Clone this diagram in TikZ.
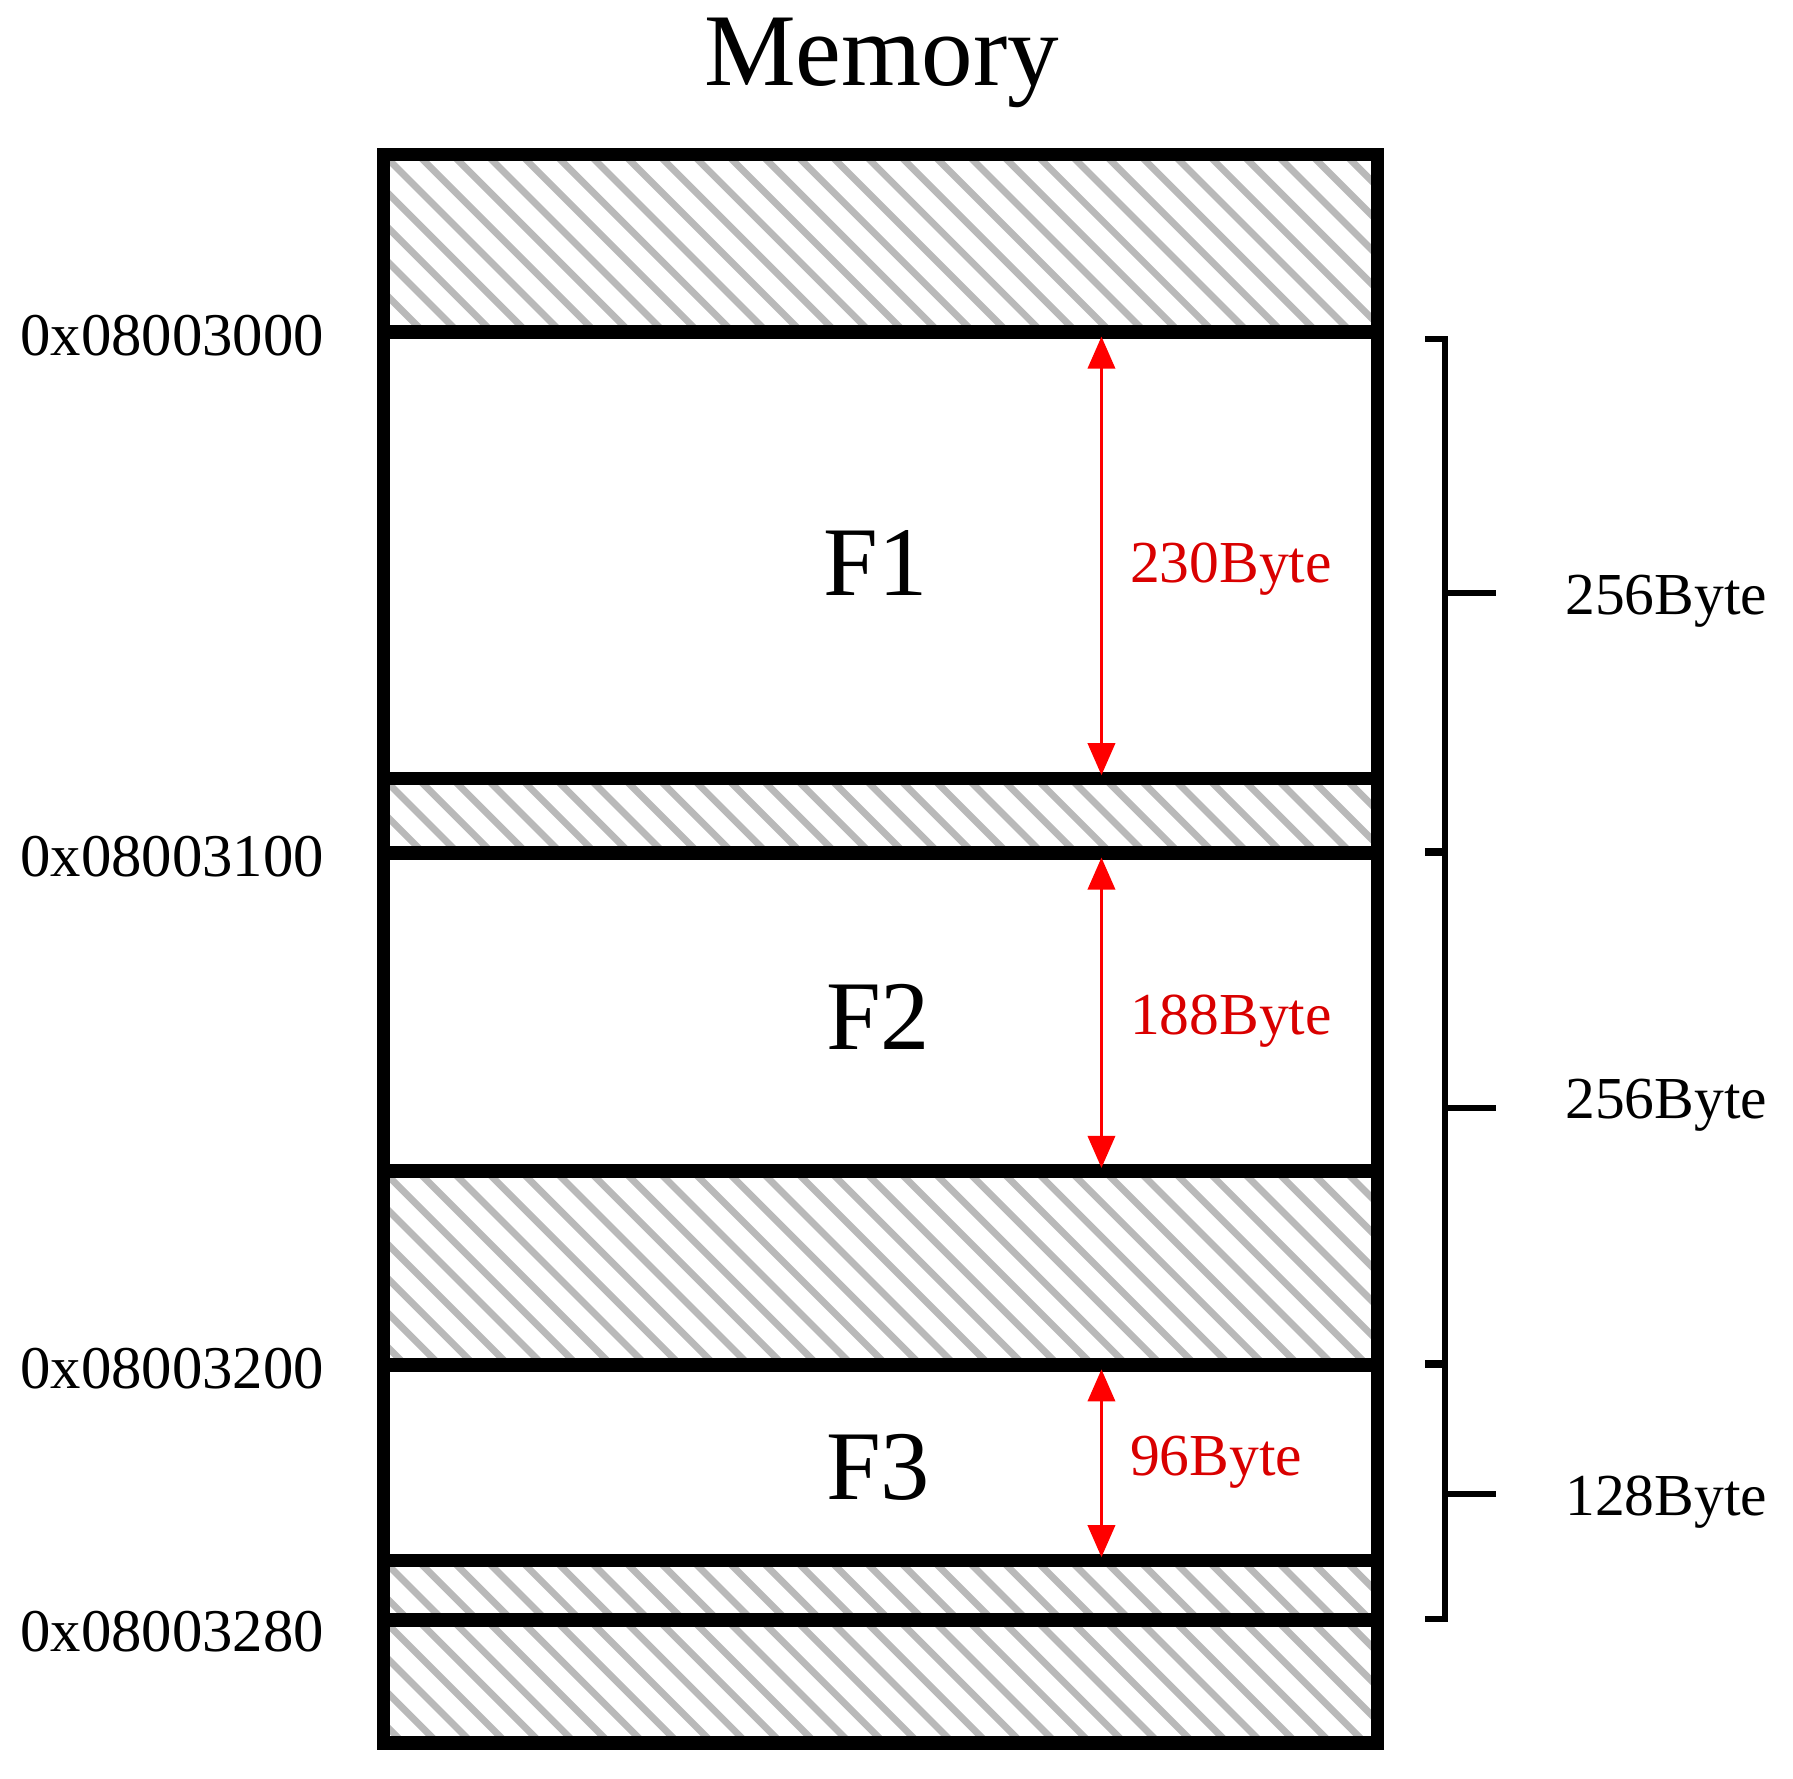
\documentclass[tikz,border=0pt]{standalone}
\usepackage{fontspec}
\setmainfont{Liberation Serif}
\usetikzlibrary{arrows.meta}
\begin{document}
\begin{tikzpicture}[x=0.5pt,y=-0.5pt,
  addr/.style={anchor=east,font=\fontsize{26.5}{30}\selectfont},
  sz/.style={anchor=west,font=\fontsize{26}{30}\selectfont},
  red lbl/.style={anchor=west,text=red!85!black,font=\fontsize{26}{30}\selectfont},
  fname/.style={font=\fontsize{43}{50}\selectfont},
  dim/.style={red,line width=1pt,{Triangle[length=14pt,width=12pt]}-{Triangle[length=14pt,width=12pt]}},
  brk/.style={line width=2.5pt},
  hatch/.style={gray!55,line width=3pt}]
\useasboundingbox (0,0) rectangle (1566,1553);
% hatched regions
\foreach \a/\b in {135/290,680/745,1023/1192,1363/1415,1415/1522}{
  \begin{scope}
    \clip (335,\a) rectangle (1203,\b);
    \foreach \k in {-20,...,60}{
      \draw[hatch] (335+\k*30-400,\a-400) -- (335+\k*30+400,\a+400);
    }
  \end{scope}
}
% box and separators
\draw[line width=6pt] (335,135) rectangle (1203,1522);
\foreach \y in {290,680,745,1023,1192,1363,1415}{
  \draw[line width=6pt] (335,\y) -- (1203,\y);
}
\node[font=\fontsize{45}{52}\selectfont] (title) at (770,55) {Memory};
\node[addr] (a0) at (290,293) {0x08003000};
\node[addr] (a1) at (290,748) {0x08003100};
\node[addr] (a2) at (290,1195) {0x08003200};
\node[addr] (a3) at (290,1425) {0x08003280};
\node[fname] (f1) at (765,492) {F1};
\node[fname] (f2) at (767,888) {F2};
\node[fname] (f3) at (767,1282) {F3};
% dimension arrows
\coordinate (d1a) at (962,294); \coordinate (d1b) at (962,677);
\coordinate (d2a) at (962,749); \coordinate (d2b) at (962,1020);
\coordinate (d3a) at (962,1196); \coordinate (d3b) at (962,1360);
\draw[dim] (d1a) -- (d1b);
\draw[dim] (d2a) -- (d2b);
\draw[dim] (d3a) -- (d3b);
\node[red lbl] (r1) at (980,497) {230Byte};
\node[red lbl] (r2) at (980,892) {188Byte};
\node[red lbl] (r3) at (980,1277) {96Byte};
% brackets
\foreach \t/\b/\m in {296/743/518,745/1190/968,1192/1414/1305}{
  \draw[brk] (1245,\t) -- (1262,\t) -- (1262,\b) -- (1245,\b);
  \draw[brk] (1262,\m) -- (1307,\m);
}
\node[sz] (s1) at (1360,525) {256Byte};
\node[sz] (s2) at (1360,965) {256Byte};
\node[sz] (s3) at (1360,1312) {128Byte};
\end{tikzpicture}
\end{document}
